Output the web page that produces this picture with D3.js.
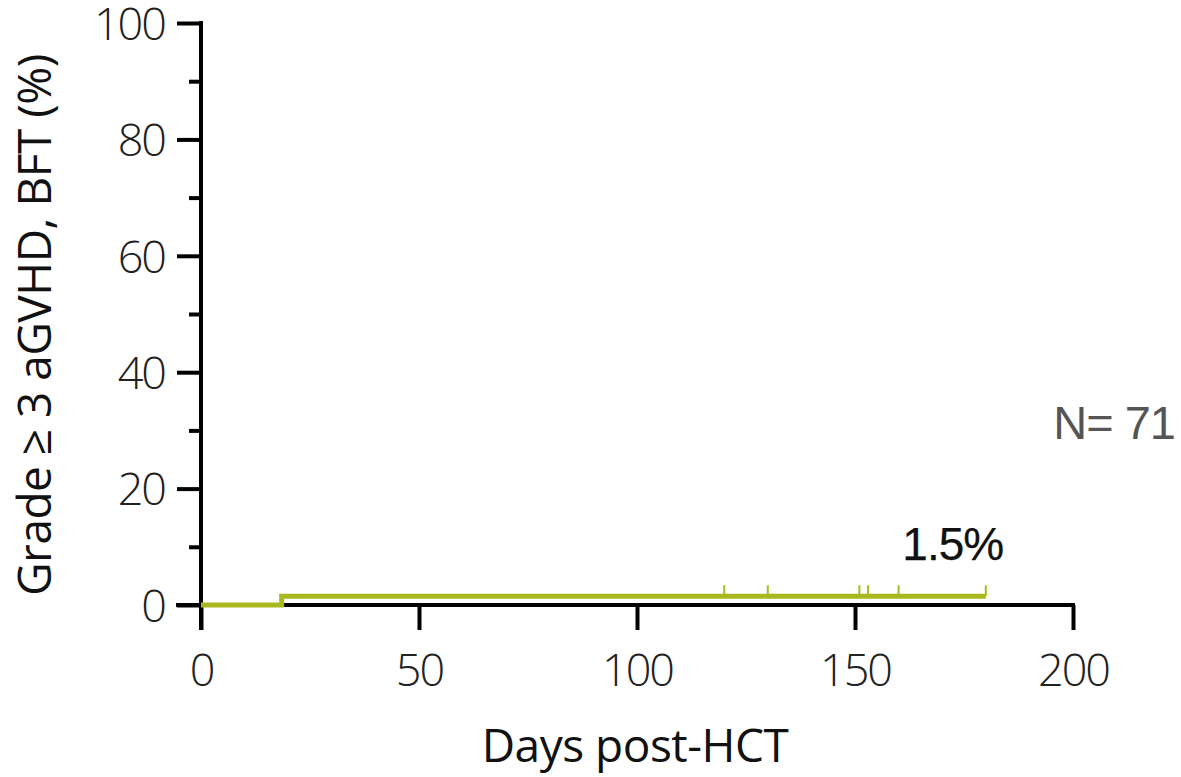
<!DOCTYPE html>
<html>
<head>
<meta charset="utf-8">
<script src="https://cdn.jsdelivr.net/npm/d3@7"></script>
<style>
  body { margin: 0; background: #fff; }
  svg { display: block; }
</style>
</head>
<body>
<div id="chart"></div>
<script>
// data
const stepDays = [0, 18.5, 180];
const stepValues = [0, 1.5, 1.5];
const censorDays = [120, 130, 151, 153, 160, 180];
const xTicks = [0, 50, 100, 150, 200];
const yTicks = [0, 20, 40, 60, 80, 100];
const yMinorTicks = [10, 30, 50, 70, 90];
const finalLabel = "1.5%";
const nLabel = "N= 71";

const width = 1181, height = 777;
const margin = { top: 23, right: 108, bottom: 172, left: 201 };
const innerW = width - margin.left - margin.right;
const innerH = height - margin.top - margin.bottom;
const lineColor = "#a9b91d";
const tickFont = "'Open Sans', 'Noto Sans', sans-serif";

const svg = d3.select("#chart").append("svg")
  .attr("width", width)
  .attr("height", height);
const g = svg.append("g")
  .attr("transform", `translate(${margin.left}, ${margin.top})`);

// scales
const scaleX = d3.scaleLinear().domain([0, 200]).range([0, innerW]);
const scaleY = d3.scaleLinear().domain([0, 100]).range([innerH, 0]);

// axes
const axisX = g.append("g")
  .attr("transform", `translate(0, ${innerH})`)
  .call(d3.axisBottom(scaleX).tickValues(xTicks).tickSize(25).tickPadding(24).tickSizeOuter(0));
axisX.select(".domain").attr("d", `M${-25},0H${innerW + 2}`);
const axisY = g.append("g")
  .call(d3.axisLeft(scaleY).tickValues(yTicks).tickSize(24).tickPadding(12).tickSizeOuter(0));
axisY.select(".domain").attr("d", `M0,-2V${innerH + 25}`);
g.append("g")
  .call(d3.axisLeft(scaleY).tickValues(yMinorTicks).tickSize(12).tickFormat(""))
  .call(s => s.select(".domain").remove());

g.selectAll(".domain, .tick line")
  .attr("stroke", "#000")
  .attr("stroke-width", 4);
g.selectAll(".tick text")
  .attr("fill", "#222")
  .style("font-family", tickFont)
  .style("font-weight", 300)
  .style("font-size", "45px")
  .style("letter-spacing", "-2px");
axisX.selectAll(".tick text").attr("dy", "0.71em");
axisY.selectAll(".tick text").attr("dy", "0.36em");

// survival step line
const stepData = stepDays.map((d, i) => ({ x: d, y: stepValues[i] }));
g.append("path")
  .datum(stepData)
  .attr("fill", "none")
  .attr("stroke", lineColor)
  .attr("stroke-width", 5)
  .attr("d", d3.line().curve(d3.curveStepAfter).x(d => scaleX(d.x)).y(d => scaleY(d.y)));

// censor marks
g.selectAll(".censor")
  .data(censorDays)
  .join("line")
  .attr("class", "censor")
  .attr("stroke", lineColor)
  .attr("stroke-width", 2)
  .attr("x1", d => scaleX(d))
  .attr("x2", d => scaleX(d))
  .attr("y1", scaleY(1.5))
  .attr("y2", scaleY(1.5) - 11);

// annotations
g.append("text")
  .attr("x", scaleX(180) - 33)
  .attr("y", scaleY(1.5) - 36)
  .attr("text-anchor", "middle")
  .style("font-family", "'Liberation Sans', Arial, sans-serif")
  .style("font-size", "46px")
  .style("letter-spacing", "-1px")
  .style("stroke", "#111")
  .style("stroke-width", 0.25)
  .attr("fill", "#111")
  .text(finalLabel);
g.append("text")
  .attr("x", width - margin.left - 6)
  .attr("y", scaleY(40) + 67)
  .attr("text-anchor", "end")
  .style("font-family", "'Liberation Sans', Arial, sans-serif")
  .style("font-size", "47px")
  .style("letter-spacing", "-1px")
  .attr("fill", "#555")
  .text(nLabel);

// axis titles
svg.append("text")
  .attr("x", margin.left + scaleX(100) - 2)
  .attr("y", 762)
  .attr("text-anchor", "middle")
  .style("font-family", tickFont)
  .style("font-size", "46px")
  .style("letter-spacing", "-0.5px")
  .attr("fill", "#111")
  .text("Days post-HCT");
svg.append("text")
  .attr("transform", `translate(51, ${margin.top + scaleY(50) + 11}) rotate(-90)`)
  .attr("text-anchor", "middle")
  .style("font-family", tickFont)
  .style("font-size", "46px")
  .style("letter-spacing", "-0.5px")
  .attr("fill", "#111")
  .text("Grade ≥ 3 aGVHD, BFT (%)");
</script>
</body>
</html>
